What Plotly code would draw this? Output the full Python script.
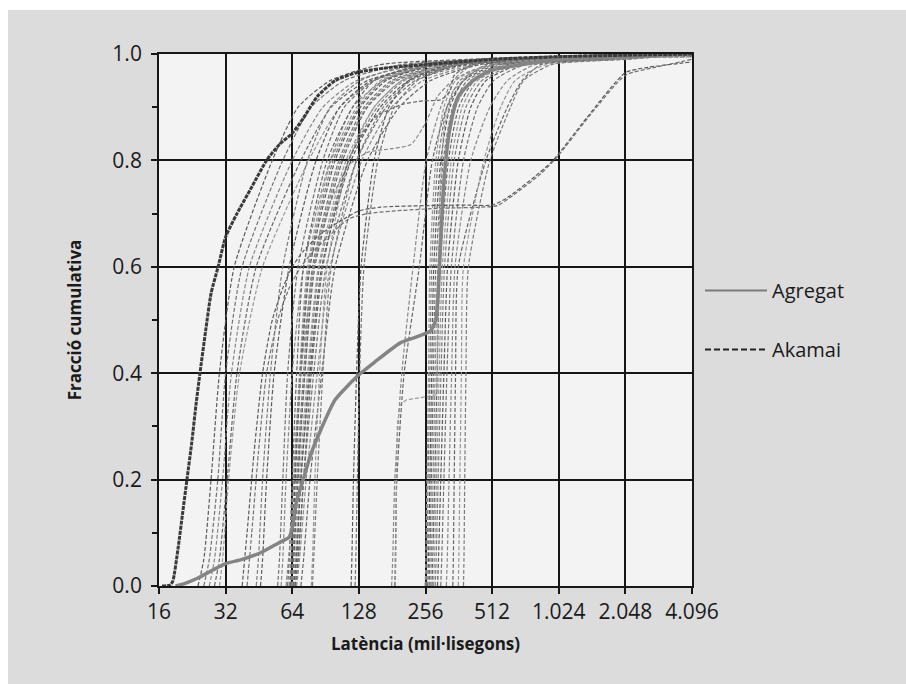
import math
import plotly.graph_objects as go

# ---------------- data ----------------
X_TICKS = [16, 32, 64, 128, 256, 512, 1024, 2048, 4096]
X_TICK_LABELS = ["16", "32", "64", "128", "256", "512", "1.024", "2.048", "4.096"]
Y_TICKS = [0.0, 0.2, 0.4, 0.6, 0.8, 1.0]
Y_TICK_LABELS = ["0.0", "0.2", "0.4", "0.6", "0.8", "1.0"]

# cumulative fraction levels shared by the individual-server curves
FRAC_LEVELS = [0.0, 0.05, 0.2, 0.4, 0.6, 0.8, 0.9, 0.95, 0.98, 0.99, 1.0]

# latencies (ms) at which each curve reaches FRAC_LEVELS
EARLY_CURVES = [
    [24, 25.5, 27.5, 30, 35, 52, 68, 95, 160, 400, 2000],
    [25.5, 27, 29.5, 32, 38, 58, 78, 110, 200, 450, 2200],
    [27, 28.5, 31, 34, 41, 64, 88, 125, 240, 500, 2500],
    [28.5, 30, 32.5, 36, 44, 70, 96, 140, 280, 550, 2800],
    [30, 31, 33, 37, 47, 76, 105, 150, 300, 600, 3000],
]
MID_CURVES = [
    [44, 45, 47, 51, 58, 75, 95, 130, 220, 500, 2500],
    [46, 47, 49, 53, 62, 82, 105, 145, 250, 550, 2800],
    [55, 56, 58, 61, 68, 88, 110, 150, 260, 600, 3000],
    [57, 58, 60, 64, 72, 95, 120, 165, 280, 650, 3200],
]
DENSE_CURVES = [
    [61, 62, 64, 67, 72, 92, 120, 150, 250, 500, 2500],
    [62, 63, 65, 69, 75, 96, 125, 160, 270, 550, 2600],
    [62.5, 63.5, 65.5, 69.5, 76, 98, 128, 165, 280, 560, 2700],
    [63, 64, 66, 70, 77, 100, 130, 170, 290, 600, 2800],
    [63, 64.5, 67, 72, 79, 104, 135, 180, 310, 620, 3000],
    [63.5, 65, 67.5, 73, 80, 106, 138, 185, 320, 640, 3100],
    [64, 65, 68, 73, 81, 108, 140, 190, 330, 650, 3200],
    [64, 66, 69, 75, 84, 112, 150, 200, 350, 700, 3400],
    [64.5, 66.5, 70, 76, 85, 115, 155, 205, 360, 720, 3500],
    [65, 67, 70, 77, 87, 118, 160, 215, 380, 750, 3600],
    [66, 68, 72, 80, 91, 125, 170, 230, 400, 800, 3800],
    [67, 69, 74, 83, 95, 132, 180, 250, 430, 850, 4000],
    [70, 72, 77, 87, 100, 140, 195, 270, 450, 900, 4096],
    [78, 79, 81, 85, 92, 115, 150, 200, 320, 650, 3000],
    [79, 80, 83, 88, 96, 125, 165, 220, 350, 700, 3200],
]
SLOW_CURVES = [
    [118, 119, 121, 125, 131, 150, 175, 215, 330, 700, 3000],
    [123, 124, 126, 129, 135, 156, 185, 235, 360, 750, 3200],
    [180, 182, 186, 200, 225, 258, 300, 340, 420, 800, 3500],
    [186, 187, 190, 205, 240, 275, 320, 380, 480, 900, 3800],
]
SLOWEST_CURVES = [
    [255, 257, 260, 264, 268, 285, 310, 350, 500, 900, 3500],
    [258, 260, 263, 268, 273, 292, 320, 365, 520, 950, 3600],
    [262, 264, 268, 273, 279, 300, 330, 380, 540, 1000, 3700],
    [266, 268, 272, 278, 285, 308, 340, 395, 560, 1100, 3800],
    [270, 272, 277, 283, 291, 316, 350, 410, 580, 1200, 3900],
    [274, 276, 282, 289, 298, 325, 362, 425, 600, 1300, 4000],
    [278, 281, 287, 295, 305, 335, 375, 440, 620, 1400, 4096],
    [283, 286, 292, 301, 312, 345, 390, 460, 650, 1500, 4096],
    [290, 293, 300, 310, 322, 360, 410, 480, 680, 1600, 4096],
    [300, 303, 310, 320, 335, 380, 440, 520, 720, 1700, 4096],
    [318, 321, 327, 336, 348, 410, 500, 600, 800, 1800, 4096],
    [340, 342, 345, 350, 360, 480, 600, 700, 850, 1900, 4096],
    [360, 362, 366, 372, 380, 470, 560, 650, 900, 2000, 4096],
    [380, 382, 385, 390, 400, 500, 620, 710, 950, 2100, 4096],
]

# curves with plateaus
PLAT71A_X = [38, 40, 43, 47, 52, 58, 64, 72, 85, 100, 128, 160, 256, 400, 512, 600, 800, 965, 1370, 2048, 2600, 4096]
PLAT71A_Y = [0.0, 0.1, 0.25, 0.4, 0.5, 0.56, 0.6, 0.63, 0.66, 0.68, 0.705, 0.712, 0.715, 0.716, 0.716, 0.73, 0.77, 0.80, 0.88, 0.965, 0.975, 0.985]
PLAT71B_X = [40, 42, 45, 49, 55, 62, 70, 80, 95, 115, 140, 200, 300, 450, 540, 640, 850, 1024, 1450, 2048, 2800, 4096]
PLAT71B_Y = [0.0, 0.1, 0.25, 0.4, 0.5, 0.56, 0.6, 0.63, 0.66, 0.69, 0.70, 0.706, 0.71, 0.712, 0.715, 0.735, 0.775, 0.81, 0.89, 0.96, 0.975, 0.99]
PLAT82_X = [60, 63, 67, 72, 80, 95, 115, 140, 180, 220, 256, 290, 340, 420, 600, 1024, 4096]
PLAT82_Y = [0.0, 0.1, 0.3, 0.45, 0.6, 0.72, 0.79, 0.815, 0.822, 0.83, 0.87, 0.92, 0.95, 0.97, 0.985, 0.99, 0.995]
PLAT91_X = [66, 68, 72, 78, 88, 115, 150, 200, 250, 300, 330, 345, 420, 700, 4096]
PLAT91_Y = [0.0, 0.05, 0.2, 0.4, 0.6, 0.8, 0.88, 0.905, 0.912, 0.914, 0.93, 0.96, 0.98, 0.99, 0.995]
PLAT36_X = [187, 188, 189, 191, 196, 210, 250, 288, 290, 293, 298, 310, 340, 420, 600, 1024, 4096]
PLAT36_Y = [0.0, 0.05, 0.2, 0.3, 0.34, 0.35, 0.355, 0.36, 0.45, 0.6, 0.75, 0.86, 0.93, 0.97, 0.985, 0.99, 0.995]

# highlighted curves
AKAMAI_X = [16.5, 18, 18.5, 19.5, 20.5, 21.4, 22.5, 23.5, 24.5, 26, 27.5, 29.6, 32, 36, 42, 49, 56, 64, 72, 83, 100, 128, 180, 256, 512, 1024, 4096]
AKAMAI_Y = [0.0, 0.002, 0.01, 0.07, 0.14, 0.2, 0.27, 0.34, 0.4, 0.48, 0.55, 0.6, 0.656, 0.7, 0.75, 0.8, 0.83, 0.851, 0.88, 0.92, 0.95, 0.966, 0.975, 0.98, 0.99, 0.995, 1.0]
AGREGAT_X = [19, 21, 24, 28, 32, 38, 45.8, 55, 62, 64, 67, 71.7, 78, 85, 100, 128, 150, 197, 240, 270, 285, 292, 300, 310, 330, 360, 420, 512, 700, 1024, 2048, 4096]
AGREGAT_Y = [0.0, 0.005, 0.015, 0.03, 0.042, 0.05, 0.062, 0.08, 0.092, 0.11, 0.16, 0.2, 0.25, 0.288, 0.35, 0.397, 0.42, 0.457, 0.47, 0.48, 0.5, 0.55, 0.65, 0.76, 0.86, 0.92, 0.95, 0.97, 0.98, 0.99, 0.995, 1.0]

# ---------------- styling ----------------
THIN_COLORS = ["#5a5a5a", "#727272", "#888888", "#666666", "#979797", "#7c7c7c"]
FONT = "Open Sans, Lato, sans-serif"
GRID = "#161616"

fig = go.Figure()

idx = 0
def add_thin(xs, ys, shape="spline"):
    global idx
    fig.add_trace(go.Scatter(
        x=xs, y=ys, mode="lines", showlegend=False, hoverinfo="skip",
        line=dict(color=THIN_COLORS[idx % len(THIN_COLORS)], width=1.2,
                  dash="4px,2px", shape=shape, smoothing=0.6),
    ))
    idx += 1

for group in (EARLY_CURVES, MID_CURVES, DENSE_CURVES, SLOW_CURVES, SLOWEST_CURVES):
    for lat in group:
        add_thin(lat, FRAC_LEVELS)

add_thin(PLAT71A_X, PLAT71A_Y)
add_thin(PLAT71B_X, PLAT71B_Y)
add_thin(PLAT82_X, PLAT82_Y)
add_thin(PLAT91_X, PLAT91_Y)
add_thin(PLAT36_X, PLAT36_Y, shape="linear")

# aggregate (thick solid gray)
fig.add_trace(go.Scatter(
    x=AGREGAT_X, y=AGREGAT_Y, mode="lines", showlegend=False, hoverinfo="skip",
    line=dict(color="#848484", width=3.5, shape="spline", smoothing=0.6),
))
# Akamai highlighted (thick dark dashed)
fig.add_trace(go.Scatter(
    x=AKAMAI_X, y=AKAMAI_Y, mode="lines", showlegend=False, hoverinfo="skip",
    line=dict(color="#3a3a3a", width=3, dash="4px,1px", shape="spline", smoothing=0.6),
))

# legend entries
fig.add_trace(go.Scatter(
    x=[None], y=[None], mode="lines", name="Agregat", legendgroup="a",
    line=dict(color="#7a7a7a", width=2),
))
fig.add_trace(go.Scatter(
    x=[None], y=[None], mode="lines", name="Akamai", legendgroup="b",
    line=dict(color="#222222", width=2, dash="6px,3px"),
))

fig.update_layout(
    width=906, height=684,
    margin=dict(l=159, r=214, t=54, b=98),
    paper_bgcolor="#dcdcdc",
    plot_bgcolor="#f3f3f3",
    font=dict(family=FONT, color="#1a1a1a", size=21),
    legend=dict(
        x=1.015, y=0.5, xanchor="left", yanchor="middle",
        bgcolor="rgba(0,0,0,0)", font=dict(size=20, family=FONT, color="#1a1a1a"),
        traceorder="grouped", tracegroupgap=30, itemwidth=62,
    ),
    xaxis=dict(
        type="log", range=[math.log10(16), math.log10(4096)],
        tickvals=X_TICKS, ticktext=X_TICK_LABELS,
        showgrid=True, gridcolor=GRID, gridwidth=1.8,
        showline=True, linecolor=GRID, linewidth=1.8, mirror=True,
        ticks="outside", ticklen=6, tickcolor=GRID, tickwidth=1.6,
        tickfont=dict(size=21, family=FONT),
        title=dict(text="<b>Latència (mil·lisegons)</b>", font=dict(size=17, family=FONT), standoff=14),
        zeroline=False,
    ),
    yaxis=dict(
        range=[0, 1],
        tickvals=Y_TICKS, ticktext=Y_TICK_LABELS,
        showgrid=True, gridcolor=GRID, gridwidth=1.8,
        showline=True, linecolor=GRID, linewidth=1.8, mirror=True,
        ticks="outside", ticklen=6, tickcolor=GRID, tickwidth=1.6,
        minor=dict(dtick=0.1, tick0=0, ticks="outside", ticklen=5, tickcolor=GRID, showgrid=False),
        tickfont=dict(size=21, family=FONT),
        ticklabelstandoff=5,
        title=dict(text="<b>Fracció cumulativa</b>", font=dict(size=17, family=FONT), standoff=26),
        zeroline=False,
    ),
    shapes=[
        dict(type="rect", xref="paper", yref="paper", x0=-159/533, x1=-151/533, y0=-98/532, y1=1 + 54/532,
             fillcolor="white", line=dict(width=0), layer="below"),
        dict(type="rect", xref="paper", yref="paper", x0=-159/533, x1=1 + 214/533, y0=1 + 44/532, y1=1 + 54/532,
             fillcolor="white", line=dict(width=0), layer="below"),
    ],
)

fig.write_html("out.html")
